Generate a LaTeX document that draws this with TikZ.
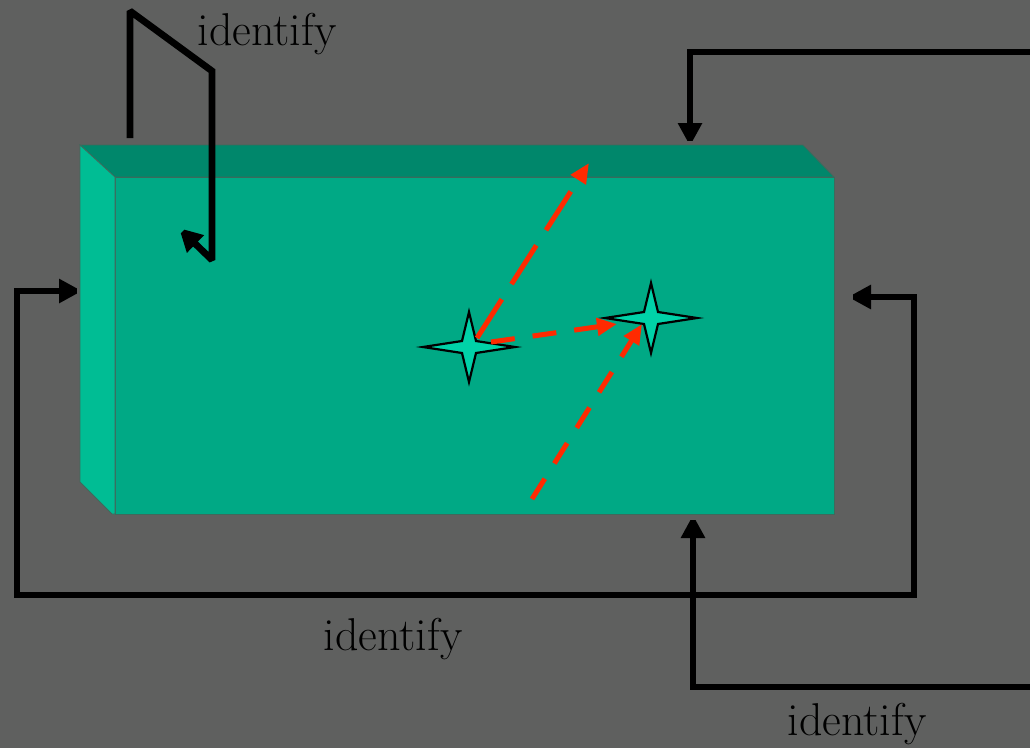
\documentclass[tikz,border=0pt]{standalone}
\usetikzlibrary{arrows.meta}
\definecolor{bg}{HTML}{5F605F}
\definecolor{topf}{HTML}{00876B}
\definecolor{leftf}{HTML}{00BD94}
\definecolor{frontf}{HTML}{00A985}
\definecolor{starf}{HTML}{00D2A8}
\definecolor{redl}{HTML}{FF2A00}
\definecolor{edgec}{HTML}{3E6A5C}
\begin{document}
\begin{tikzpicture}[x=1pt,y=-1pt,
  conn/.style={line width=6.8pt, line join=miter, miter limit=2, -{Triangle[length=23pt,width=23pt]}},
  connboth/.style={line width=6.8pt, line join=miter, miter limit=2, {Triangle[length=23pt,width=23pt]}-{Triangle[length=23pt,width=23pt]}},
  ray/.style={draw=redl, line width=5pt, -{Triangle[length=20pt,width=17pt]}},
  longdash/.style={dash pattern=on 46pt off 18pt},
  shortdash/.style={dash pattern=on 24pt off 18pt},
  lbl/.style={font=\fontsize{46}{54}\selectfont, text=black, anchor=base, inner sep=0pt},
  facet/.style={draw=edgec, line width=0.8pt},
  sparkle/.pic={\filldraw[fill=starf, draw=black, line width=2.2pt, line join=miter]
     (-46,0)--(-7,-6)--(0,-35)--(7,-6)--(46,0)--(7,6)--(0,35)--(-7,6)--cycle;}]
\useasboundingbox (0,0) rectangle (1030,748);
\fill[bg] (0,0) rectangle (1030,748);

% box
\filldraw[facet, fill=frontf] (115,177) rectangle (834,514);
\filldraw[facet, fill=topf] (80,145) -- (803,145) -- (834,177) -- (115,177) -- cycle;
\filldraw[facet, fill=leftf] (80,145) -- (115,177) -- (115,514) -- (112,514) -- (80,482) -- cycle;

% named points on the box
\coordinate (boxTop) at (690,146);
\coordinate (boxBottom) at (693,515);
\coordinate (boxLeft) at (82,291);
\coordinate (boxRight) at (848,297);
\coordinate (boxInner) at (179,228);

% free ends
\coordinate (tlStart) at (130,138);
\coordinate (trStart) at (1034,52);
\coordinate (brStart) at (1034,687);

% stars
\pic at (469,347) {sparkle};
\pic at (651,318) {sparkle};
\coordinate (r1s) at (477,338);
\coordinate (r2s) at (491,342);
\coordinate (r3s) at (532,499);
\coordinate (r1e) at (589,163);
\coordinate (r2e) at (617,324);
\coordinate (r3e) at (642,324);

% black connectors
\draw[conn] (tlStart) -- (130,11) -- (212,71) -- (212,260) -- (boxInner);
\draw[conn] (trStart) -- (690,52) -- (boxTop);
\draw[conn] (brStart) -- (693,687) -- (boxBottom);
\draw[connboth] (boxRight) -- (914,297) -- (914,595) -- (17,595) -- (17,291) -- (boxLeft);

% red dashed rays
\draw[ray, longdash] (r1s) -- (r1e);
\draw[ray, shortdash] (r2s) -- (r2e);
\draw[ray, shortdash] (r3s) -- (r3e);

% labels
\node[lbl] (l1) at (267,45) {identify};
\node[lbl] (l2) at (393,650) {identify};
\node[lbl] (l3) at (857,735) {identify};
\end{tikzpicture}
\end{document}
